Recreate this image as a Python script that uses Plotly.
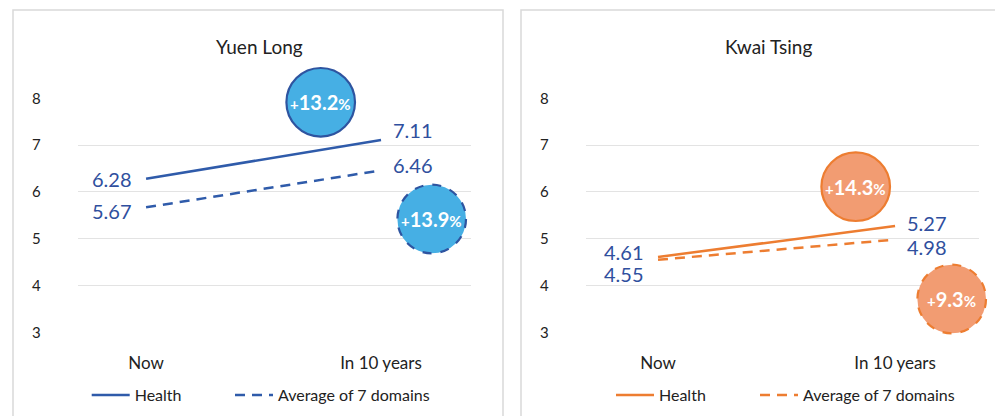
import plotly.graph_objects as go

# ---------------- data ----------------
categories = ["Now", "In 10 years"]
yuen_long_health = [6.28, 7.11]
yuen_long_avg = [5.67, 6.46]
kwai_tsing_health = [4.61, 5.27]
kwai_tsing_avg = [4.55, 4.98]
yuen_long_change = [13.2, 13.9]
kwai_tsing_change = [14.3, 9.3]
y_ticks = [3, 4, 5, 6, 7, 8]
panel_titles = ["Yuen Long", "Kwai Tsing"]
series_names = ["Health", "Average of 7 domains"]

# the page body keeps an 8px margin, so the figure is 8px smaller than the window
OFF = 8
W, H = 1003 - OFF, 416 - OFF
FONT = "Lato"
BLUE = "#2F5BAA"
LBL = "#2F4F9E"
ORANGE = "#ED7D31"
BLUE_FILL = "#46AFE4"
BLUE_EDGE = "#2E54A0"
ORANGE_FILL = "#F29C72"


def px(x):
    return (x - OFF) / W


def py(y):
    return 1 - (y - OFF) / H


fig = go.Figure()

panels = [
    dict(h=yuen_long_health, a=yuen_long_avg, color=BLUE, xa="x", ya="y",
         legends=("legend", "legend2")),
    dict(h=kwai_tsing_health, a=kwai_tsing_avg, color=ORANGE, xa="x2", ya="y2",
         legends=("legend3", "legend4")),
]

for p in panels:
    fig.add_trace(go.Scatter(
        x=categories, y=p["h"], mode="lines", name=series_names[0],
        line=dict(color=p["color"], width=2.5),
        xaxis=p["xa"], yaxis=p["ya"], legend=p["legends"][0], hoverinfo="skip"))
    fig.add_trace(go.Scatter(
        x=categories, y=p["a"], mode="lines", name=series_names[1],
        line=dict(color=p["color"], width=2.5, dash="10px,7px"),
        xaxis=p["xa"], yaxis=p["ya"], legend=p["legends"][1], hoverinfo="skip"))

# value labels
label_specs = [
    ("x", "y", yuen_long_health, [0, 10]),
    ("x", "y", yuen_long_avg, [-4, 5]),
    ("x2", "y2", kwai_tsing_health, [5, 3]),
    ("x2", "y2", kwai_tsing_avg, [-14, -7]),
]
for xa, ya, vals, shifts in label_specs:
    for i, v in enumerate(vals):
        fig.add_annotation(
            x=categories[i], y=v, xref=xa, yref=ya, text=f"{v:.2f}",
            showarrow=False, xanchor="right" if i == 0 else "left", yanchor="middle",
            xshift=-12 if i == 0 else 10, yshift=shifts[i],
            font=dict(family=FONT, size=20, color=LBL))

# panel borders
fig.add_shape(type="rect", xref="paper", yref="paper",
              x0=px(13), x1=px(503), y0=-0.05, y1=py(10),
              line=dict(color="#D9D9D9", width=1.5), layer="below")
fig.add_shape(type="rect", xref="paper", yref="paper",
              x0=px(521), x1=1.05, y0=-0.05, y1=py(10),
              line=dict(color="#D9D9D9", width=1.5), layer="below")

# titles
for t, cx in zip(panel_titles, [260, 768]):
    fig.add_annotation(x=px(cx), y=py(46), xref="paper", yref="paper", text=t,
                       showarrow=False, xanchor="center", yanchor="middle",
                       font=dict(family=FONT, size=19, color="#222222"))

# change bubbles
bubbles = [
    (320.7, 102.3, yuen_long_change[0], BLUE_FILL, BLUE_EDGE, "solid"),
    (431.7, 219.0, yuen_long_change[1], BLUE_FILL, BLUE_EDGE, "dash"),
    (855.7, 186.7, kwai_tsing_change[0], ORANGE_FILL, ORANGE, "solid"),
    (951.7, 299.0, kwai_tsing_change[1], ORANGE_FILL, ORANGE, "dash"),
]
R = 34.3
for cx, cy, val, fill, edge, dash in bubbles:
    fig.add_shape(type="circle", xref="paper", yref="paper",
                  x0=px(cx - R), x1=px(cx + R), y0=py(cy + R), y1=py(cy - R),
                  fillcolor=fill, line=dict(color=edge, width=2.2, dash=dash),
                  layer="above")
    fig.add_annotation(x=px(cx), y=py(cy), xref="paper", yref="paper",
                       text=(f"<b><span style='font-size:15px'>+</span>{val:.1f}"
                             f"<span style='font-size:15px'>%</span></b>"),
                       showarrow=False, xanchor="center", yanchor="middle",
                       font=dict(family=FONT, size=20, color="white"))

axis_common = dict(showline=False, zeroline=False, ticks="", showgrid=False,
                   automargin=False,
                   tickfont=dict(family=FONT, size=17, color="#222222"),
                   fixedrange=True)
yaxis_common = dict(range=[2.98, 8.02], tickvals=y_ticks, showgrid=True,
                    gridcolor="#E3E3E3", gridwidth=1.2, zeroline=False,
                    showline=False, ticks="", ticklabelstandoff=36, automargin=False,
                    tickfont=dict(family=FONT, size=15, color="#222222"),
                    fixedrange=True)

legend_base = dict(orientation="h", xanchor="left", yanchor="middle",
                   font=dict(family=FONT, size=16, color="#222222"),
                   bgcolor="rgba(0,0,0,0)", itemwidth=38)
legend_line_start = [91.7, 235, 616, 760]

fig.update_layout(
    width=W, height=H,
    margin=dict(l=0, r=0, t=0, b=0, autoexpand=False),
    paper_bgcolor="white", plot_bgcolor="white",
    xaxis=dict(domain=[px(77.7), px(471)], range=[-0.291, 1.383], anchor="y",
               ticklabelstandoff=18, **axis_common),
    yaxis=dict(domain=[py(333.2), py(97.4)], anchor="x", **yaxis_common),
    xaxis2=dict(domain=[px(585.7), px(979)], range=[-0.305, 1.354], anchor="y2",
                ticklabelstandoff=18, **axis_common),
    yaxis2=dict(domain=[py(333.2), py(97.4)], anchor="x2", **yaxis_common),
    legend=dict(x=px(legend_line_start[0] - 5), y=py(395), **legend_base),
    legend2=dict(x=px(legend_line_start[1] - 5), y=py(395), **legend_base),
    legend3=dict(x=px(legend_line_start[2] - 5), y=py(395), **legend_base),
    legend4=dict(x=px(legend_line_start[3] - 5), y=py(395), **legend_base),
    showlegend=True,
)

fig.write_html("out.html")
